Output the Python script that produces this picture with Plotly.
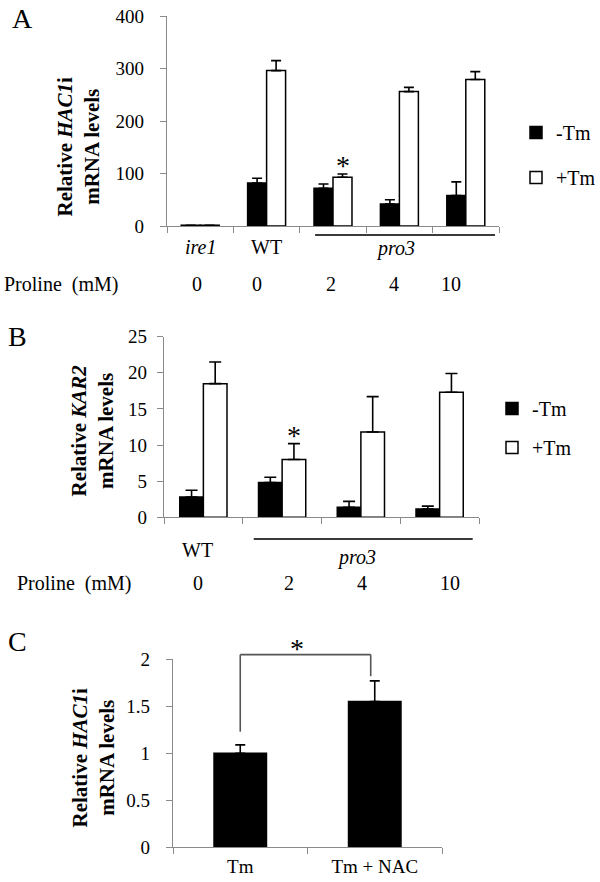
import plotly.graph_objects as go

FONT = "Liberation Serif, Times New Roman, Times, serif"
W, H = 600, 882

# ---------------- data ----------------
# Panel A: relative HAC1i mRNA levels
a_cats = ["ire1", "WT", "pro3_2", "pro3_4", "pro3_10"]
a_minus = [1.5, 82, 72, 42, 58]
a_minus_err = [0, 9, 8, 8, 26]
a_plus = [1.5, 296, 93, 256, 279]
a_plus_err = [0, 19, 6, 8, 15]
a_strain = ["<i>ire1</i>", "WT"]
a_proline = ["0", "0", "2", "4", "10"]

# Panel B: relative KAR2 mRNA levels
b_cats = ["WT", "pro3_2", "pro3_4", "pro3_10"]
b_minus = [2.8, 4.8, 1.4, 1.15]
b_minus_err = [0.95, 0.75, 0.8, 0.4]
b_plus = [18.5, 8.0, 11.8, 17.3]
b_plus_err = [3.0, 2.2, 4.9, 2.6]
b_strain = ["WT"]
b_proline = ["0", "2", "4", "10"]

# Panel C: relative HAC1i mRNA levels
c_cats = ["Tm", "Tm + NAC"]
c_vals = [1.0, 1.55]
c_err = [0.09, 0.22]
c_bracket_top = 2.05
c_bracket_bottoms = [1.23, 1.82]

series_names = ["-Tm", "+Tm"]

# ---------------- layout helpers ----------------
def px(x):
    return x / W

def py(y):
    return 1 - y / H

A_X = [px(167), px(499)]
A_Y = [py(226), py(16)]
B_X = [px(164), px(479)]
B_Y = [py(517.3), py(336.7)]
C_X = [px(173), px(442)]
C_Y = [py(847.3), py(659.3)]
C_RANGE = [0, 2]

AXIS_GREY = "#8a8a8a"


def err(vals, w=5):
    return dict(type="data", array=vals, arrayminus=[0] * len(vals), symmetric=False,
                color="black", thickness=1.6, width=w)


fig = go.Figure()

wa = 0.286
fig.add_trace(go.Bar(x=a_cats, y=a_minus, error_y=err(a_minus_err), width=wa, offset=-wa,
                     marker=dict(color="black", line=dict(color="black", width=1.5)),
                     name=series_names[0], legend="legend", legendgroup="a1",
                     xaxis="x", yaxis="y"))
fig.add_trace(go.Bar(x=a_cats, y=a_plus, error_y=err(a_plus_err), width=wa, offset=0,
                     marker=dict(color="white", line=dict(color="black", width=1.5)),
                     name=series_names[1], legend="legend", legendgroup="a2",
                     xaxis="x", yaxis="y"))

wb = 0.30
fig.add_trace(go.Bar(x=b_cats, y=b_minus, error_y=err(b_minus_err, 6), width=wb, offset=-wb,
                     marker=dict(color="black", line=dict(color="black", width=1.5)),
                     name=series_names[0], legend="legend2", legendgroup="b1",
                     xaxis="x2", yaxis="y2"))
fig.add_trace(go.Bar(x=b_cats, y=b_plus, error_y=err(b_plus_err, 6), width=wb, offset=0,
                     marker=dict(color="white", line=dict(color="black", width=1.5)),
                     name=series_names[1], legend="legend2", legendgroup="b2",
                     xaxis="x2", yaxis="y2"))

wc = 0.39
fig.add_trace(go.Bar(x=c_cats, y=c_vals, error_y=err(c_err), width=wc, offset=-wc / 2,
                     marker=dict(color="black", line=dict(color="black", width=1.5)),
                     showlegend=False, xaxis="x3", yaxis="y3"))

tickfont = dict(family=FONT, size=19, color="black")

xcommon = dict(type="category", showline=True, linecolor=AXIS_GREY, linewidth=1.3,
               ticks="outside", tickson="boundaries", ticklen=6, tickcolor=AXIS_GREY,
               tickwidth=1.3, showgrid=False, zeroline=False, fixedrange=True)
ycommon = dict(showline=True, linecolor=AXIS_GREY, linewidth=1.3, ticks="outside",
               ticklen=6, tickcolor=AXIS_GREY, tickwidth=1.3, showgrid=False,
               zeroline=False, tickfont=tickfont, fixedrange=True)

fig.update_layout(
    width=W, height=H, margin=dict(l=0, r=0, t=0, b=0, autoexpand=False),
    paper_bgcolor="white", plot_bgcolor="white",
    barmode="overlay", font=dict(family=FONT, color="black"),
    xaxis=dict(domain=A_X, anchor="y", showticklabels=False, **xcommon),
    yaxis=dict(domain=A_Y, anchor="x", range=[0, 400], dtick=100, ticklabelstandoff=12, **ycommon),
    xaxis2=dict(domain=B_X, anchor="y2", showticklabels=False, **xcommon),
    yaxis2=dict(domain=B_Y, anchor="x2", range=[0, 25], dtick=5, ticklabelstandoff=6, **ycommon),
    xaxis3=dict(domain=C_X, anchor="y3", showticklabels=True, tickfont=tickfont,
                ticklabelstandoff=2, **xcommon),
    yaxis3=dict(domain=C_Y, anchor="x3", range=C_RANGE, dtick=0.5, ticklabelstandoff=12, **ycommon),
    legend=dict(x=px(516), y=py(113), xanchor="left", yanchor="top",
                font=dict(family=FONT, size=20), tracegroupgap=16, bgcolor="rgba(0,0,0,0)"),
    legend2=dict(x=px(492), y=py(389), xanchor="left", yanchor="top",
                 font=dict(family=FONT, size=20), tracegroupgap=10, bgcolor="rgba(0,0,0,0)"),
)

ann = []
lab = dict(family=FONT, size=20, color="black")

# Panel letters
for letter, x, y in [("A", 22, 18), ("B", 17, 337), ("C", 17, 641)]:
    ann.append(dict(text=letter, x=px(x), y=py(y), xref="paper", yref="paper",
                    xanchor="center", yanchor="middle", showarrow=False,
                    font=dict(family=FONT, size=28, color="black")))

# Y titles
ytitle_font = dict(family=FONT, size=21, color="black")
for text, x, y in [("Relative <i>HAC1</i>i<br>mRNA levels", 78.5, 147),
                   ("Relative <i>KAR2</i><br>mRNA levels", 91.5, 431),
                   ("Relative <i>HAC1</i>i<br>mRNA levels", 92.5, 758)]:
    ann.append(dict(text="<b>" + text.replace("<br>", "</b><br><b>") + "</b>",
                    x=px(x), y=py(y), xref="paper", yref="paper", textangle=-90,
                    xanchor="center", yanchor="middle", showarrow=False, font=ytitle_font))

# Panel A strain labels
for i, s in enumerate(a_strain):
    ann.append(dict(text=s, x=i, y=py(247), xref="x", yref="paper", showarrow=False,
                    yanchor="middle", font=lab))
ann.append(dict(text="<i>pro3</i>", x=3, xshift=-4, y=py(248), xref="x", yref="paper",
                showarrow=False, yanchor="middle", font=lab))
a_shift = [-3, -10, -2, -5, -15]
for i, s in enumerate(a_proline):
    ann.append(dict(text=s, x=i, xshift=a_shift[i], y=py(284), xref="x", yref="paper",
                    showarrow=False, yanchor="middle", font=lab))
ann.append(dict(text="Proline\u00a0\u00a0(mM)", x=px(2), y=py(284), xref="paper", yref="paper",
                xanchor="left", yanchor="middle", showarrow=False, font=lab))

# Panel B strain labels
for i, s in enumerate(b_strain):
    ann.append(dict(text=s, x=i, xshift=-6, y=py(550), xref="x2", yref="paper", showarrow=False,
                    yanchor="middle", font=lab))
ann.append(dict(text="<i>pro3</i>", x=2, xshift=-4, y=py(557), xref="x2", yref="paper",
                showarrow=False, yanchor="middle", font=lab))
b_shift = [-5, 7, 1, 10]
for i, s in enumerate(b_proline):
    ann.append(dict(text=s, x=i, xshift=b_shift[i], y=py(583), xref="x2", yref="paper",
                    showarrow=False, yanchor="middle", font=lab))
ann.append(dict(text="Proline\u00a0\u00a0(mM)", x=px(15), y=py(583), xref="paper", yref="paper",
                xanchor="left", yanchor="middle", showarrow=False, font=lab))

# significance stars
star = dict(family=FONT, size=28, color="black")
ann.append(dict(text="*", x=2 + wa / 2, y=a_plus[2] + a_plus_err[2], xref="x", yref="y",
                yanchor="bottom", yshift=-9, showarrow=False, font=star))
ann.append(dict(text="*", x=1 + wb / 2, y=b_plus[1] + b_plus_err[1], xref="x2", yref="y2",
                yanchor="bottom", yshift=-9, showarrow=False, font=star))


def c_paper(v):
    return C_Y[0] + (v - C_RANGE[0]) / (C_RANGE[1] - C_RANGE[0]) * (C_Y[1] - C_Y[0])


ann.append(dict(text="*", x=0.42, y=c_paper(c_bracket_top), xref="x3", yref="paper",
                yanchor="bottom", yshift=-11, showarrow=False, font=star))

fig.update_layout(annotations=ann)

# shapes: pro3 underlines and bracket
line_style = dict(color="#3a3a3a", width=2)
shapes = [
    dict(type="line", xref="x", yref="paper", x0=1.73, x1=4.44, y0=py(235), y1=py(235), line=line_style),
    dict(type="line", xref="x2", yref="paper", x0=0.64, x1=3.42, y0=py(539), y1=py(539), line=line_style),
]
br = dict(color="#555555", width=1.6)
yt = c_paper(c_bracket_top)
shapes += [
    dict(type="line", xref="x3", yref="paper", x0=0, x1=0, y0=c_paper(c_bracket_bottoms[0]), y1=yt, line=br),
    dict(type="line", xref="x3", yref="paper", x0=0, x1=0.97, y0=yt, y1=yt, line=br),
    dict(type="line", xref="x3", yref="paper", x0=0.97, x1=0.97, y0=yt, y1=c_paper(c_bracket_bottoms[1]), line=br),
]
fig.update_layout(shapes=shapes)

# remove the default 8px page margin so the 600x882 figure fills the window exactly
fig.write_html("out.html", config={"displayModeBar": False},
               post_script="document.body.style.margin='0px';")
